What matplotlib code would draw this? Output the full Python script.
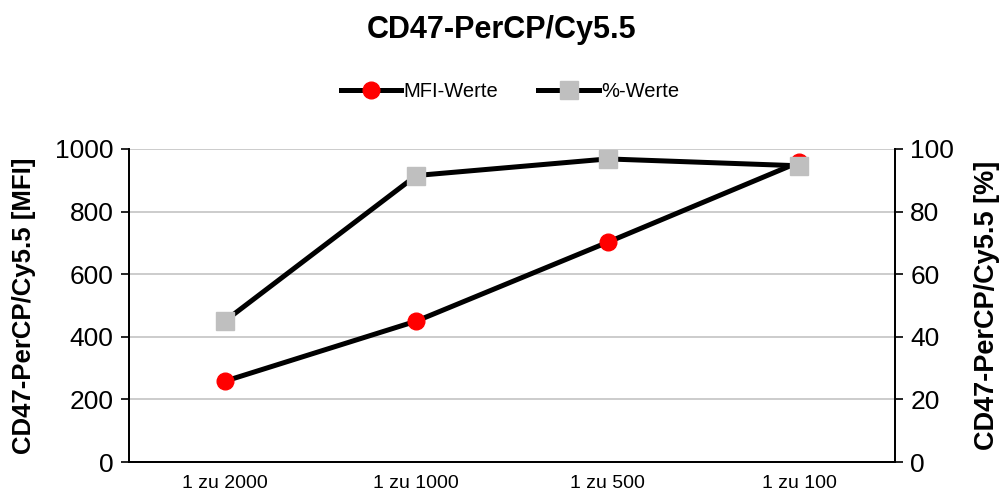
import matplotlib.pyplot as plt
from matplotlib import rcParams

rcParams.update({
    'font.family': ['Liberation Sans', 'DejaVu Sans'],
})

categories = ['1 zu 2000', '1 zu 1000', '1 zu 500', '1 zu 100']
mfi_values = [258, 450, 702, 958]
pct_values = [45.0, 91.5, 96.8, 94.6]

fig = plt.figure(figsize=(10.04, 4.97), dpi=100)
ax = fig.add_axes([0.1285, 0.0704, 0.763, 0.630])
ax2 = ax.twinx()

x = list(range(len(categories)))
l1, = ax.plot(x, mfi_values, color='black', lw=3.6, marker='o', ms=12,
              mfc='#FF0000', mec='#FF0000', label='MFI-Werte', zorder=3)
l2, = ax2.plot(x, pct_values, color='black', lw=3.6, marker='s', ms=12.5,
               mfc='#BFBFBF', mec='#BFBFBF', label='%-Werte', zorder=3)

ax.set_xlim(-0.5, 3.5)
ax.set_ylim(0, 1000)
ax2.set_ylim(0, 100)
ax.set_yticks(range(0, 1001, 200))
ax2.set_yticks(range(0, 101, 20))
ax.set_xticks(x)
ax.set_xticklabels(categories, fontsize=14)
ax.tick_params(axis='x', length=0, pad=9)
ax.tick_params(axis='y', labelsize=19, length=6, width=1.2, color='black', pad=5)
ax2.tick_params(axis='y', labelsize=19, length=6, width=1.2, color='black', pad=5)
ax.yaxis.grid(True, color='#C8C8C8', lw=1.3)
ax.set_axisbelow(True)

for a in (ax, ax2):
    a.spines['top'].set_visible(False)
    for s in ('left', 'right', 'bottom'):
        a.spines[s].set_color('black')
        a.spines[s].set_linewidth(1.3)

ax.set_ylabel('CD47-PerCP/Cy5.5 [MFI]', fontsize=18.5, fontweight='bold', labelpad=14)
ax2.set_ylabel('CD47-PerCP/Cy5.5 [%]', fontsize=19.5, fontweight='bold', labelpad=14)

fig.suptitle('CD47-PerCP/Cy5.5', fontsize=22, fontweight='bold', y=0.97)
fig.legend([l1, l2], ['MFI-Werte', '%-Werte'], loc='center', bbox_to_anchor=(0.508, 0.815),
           ncol=2, frameon=False, fontsize=14.5, handlelength=3, columnspacing=2,
           handletextpad=0.1)

fig.savefig('out.png', dpi=100)
